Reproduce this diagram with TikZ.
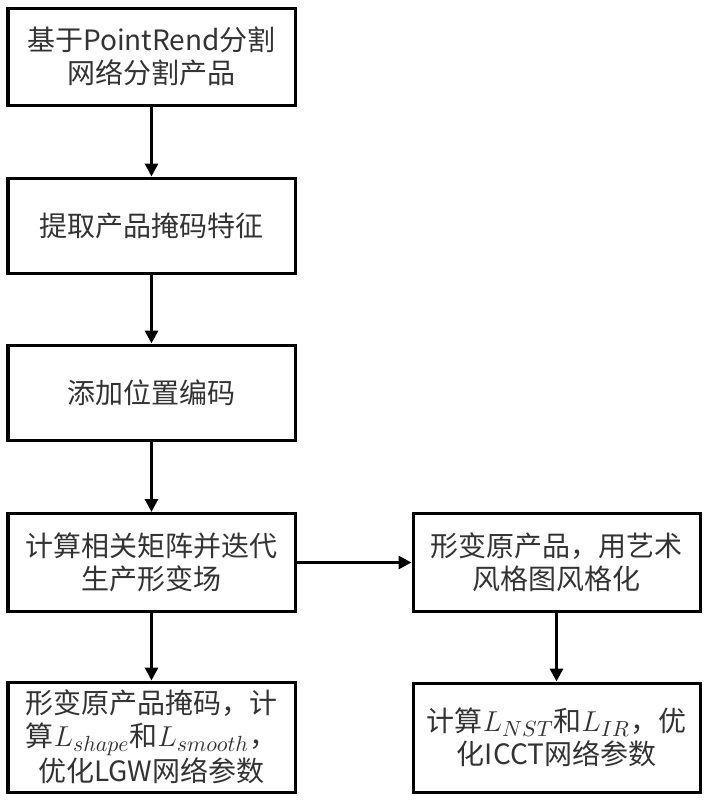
\documentclass[tikz,border=0pt]{standalone}
\usepackage{fontspec}
\setmainfont{Noto Sans CJK SC}
\DeclareMathSizes{14}{14}{11}{8}
\usetikzlibrary{arrows.meta}
\begin{document}
\begin{tikzpicture}[x=0.5pt,y=-0.5pt,
  box/.style={draw=black,line width=1.5pt,minimum width=143.5pt,inner sep=0pt,
    align=center,text=black!80,font=\fontsize{14pt}{16.5pt}\selectfont},
  arr/.style={line width=1.5pt,-{Triangle[width=6.5pt,length=6.5pt]}}]
\useasboundingbox (0,0) rectangle (709,800);
\node[box,minimum height=48.5pt] (b1) at (151.5,56.5) {基于PointRend分割\\网络分割产品};
\node[box,minimum height=47.5pt] (b2) at (151.5,225.5) {提取产品掩码特征};
\node[box,minimum height=47.5pt] (b3) at (151.5,392.5) {添加位置编码};
\node[box,minimum height=49pt] (b4) at (151.5,562.5) {计算相关矩阵并迭代\\生产形变场};
\node[box,minimum height=55pt] (b5) at (151.5,737) {形变原产品掩码，计\\算$L_{shape}$和$L_{smooth}$，\\优化LGW网络参数};
\node[box,minimum height=49pt] (r1) at (556.5,562.5) {形变原产品，用艺术\\风格图风格化};
\node[box,minimum height=54.5pt] (r2) at (556.5,737.5) {计算$L_{NST}$和$L_{IR}$，优\\化ICCT网络参数};
\draw[arr] (b1) -- (b2);
\draw[arr] (b2) -- (b3);
\draw[arr] (b3) -- (b4);
\draw[arr] (b4) -- (b5);
\draw[arr] (b4) -- (r1);
\draw[arr] (r1) -- (r2);
\end{tikzpicture}
\end{document}
